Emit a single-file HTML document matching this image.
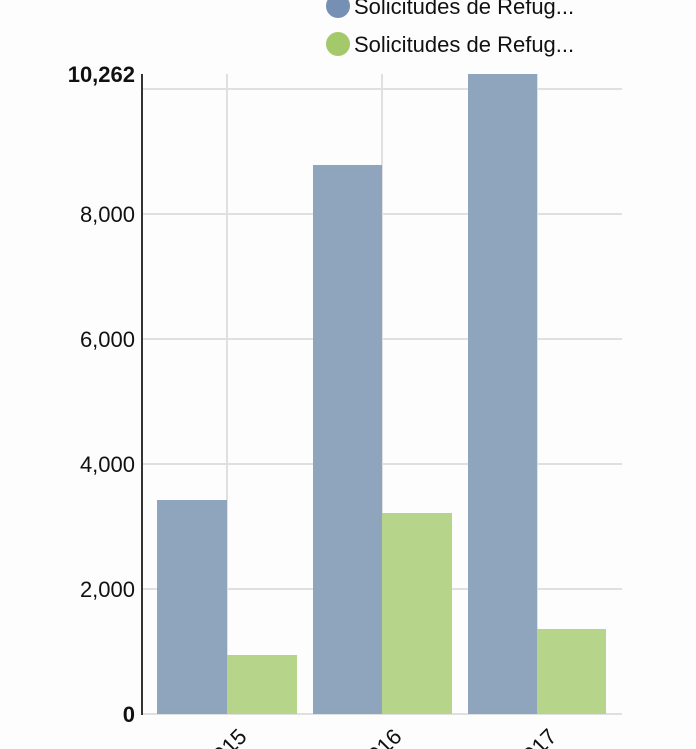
<!DOCTYPE html>
<html><head><meta charset="utf-8"><style>
html,body{margin:0;padding:0;background:#fdfdfd;}
svg{display:block;font-family:"Liberation Sans",Arial,sans-serif;}
</style></head><body>
<svg width="696" height="749" xmlns="http://www.w3.org/2000/svg">
<rect width="696" height="749" fill="#fdfdfd"/>
<g stroke="#e0e0e0" stroke-width="2">
<line x1="142" y1="89" x2="622" y2="89"/>
<line x1="142" y1="214" x2="622" y2="214"/>
<line x1="142" y1="339" x2="622" y2="339"/>
<line x1="142" y1="464" x2="622" y2="464"/>
<line x1="142" y1="589" x2="622" y2="589"/>
<line x1="142" y1="714" x2="622" y2="714"/>
<line x1="227" y1="74" x2="227" y2="714"/>
<line x1="382" y1="74" x2="382" y2="714"/>
<line x1="537" y1="74" x2="537" y2="714"/>
</g>
<g fill="#8ea5bd">
<rect x="157" y="500" width="70" height="214"/>
<rect x="313" y="165" width="69" height="549"/>
<rect x="468" y="74" width="69" height="640"/>
</g>
<g fill="#b6d48a">
<rect x="227" y="655" width="70" height="59"/>
<rect x="382" y="513" width="70" height="201"/>
<rect x="537" y="629" width="69" height="85"/>
</g>
<line x1="142" y1="74" x2="142" y2="715" stroke="#333" stroke-width="2"/>
<g font-size="22" fill="#111" text-anchor="end">
<text x="135" y="82" font-weight="bold">10,262</text>
<text x="135" y="222">8,000</text>
<text x="135" y="347">6,000</text>
<text x="135" y="472">4,000</text>
<text x="135" y="597">2,000</text>
<text x="135" y="722" font-weight="bold">0</text>
</g>
<g font-size="22" fill="#111" text-anchor="end">
<text transform="translate(248,738) rotate(-45)">2015</text>
<text transform="translate(403,738) rotate(-45)">2016</text>
<text transform="translate(558,738) rotate(-45)">2017</text>
</g>
<circle cx="338" cy="6" r="12" fill="#7590b4"/>
<text x="354" y="14" font-size="22" fill="#111">Solicitudes de Refug...</text>
<circle cx="338" cy="44" r="12" fill="#a3c96a"/>
<text x="354" y="52" font-size="22" fill="#111">Solicitudes de Refug...</text>
</svg>
</body></html>
